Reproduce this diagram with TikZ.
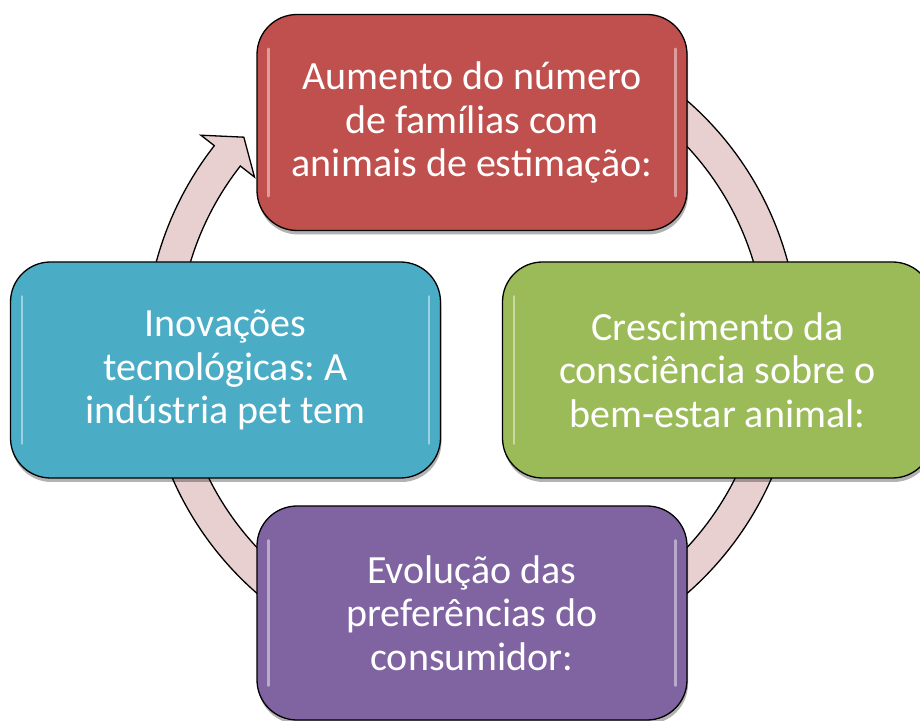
\documentclass[tikz,border=0pt]{standalone}
\usepackage{fontspec}
\setmainfont{Carlito}
\usepackage{tikz}
\usetikzlibrary{
	shadows,
	shapes,
}
\usepackage{xcolor}
\definecolor{boxred}{HTML}{C0504D}
\definecolor{boxblue}{HTML}{4BACC6}
\definecolor{boxgreen}{HTML}{9BBB59}
\definecolor{boxpurple}{HTML}{8064A2}
\definecolor{ringpink}{HTML}{E8D0D1}
\frenchspacing

\begin{document}
\begin{tikzpicture}[x=1pt,y=1pt,
	card/.style={draw=black, line width=1.3pt, rounded corners=40pt,
		minimum width=430pt, minimum height=216pt, inner sep=0pt,
		align=center, text=white, font=\fontsize{40}{43.5}\selectfont,
		drop shadow={shadow xshift=1pt, shadow yshift=-4pt, opacity=0.3, fill=black}},
	ring/.style={fill=ringpink, draw=black, line width=1.3pt},
	gloss/.style={draw=white, opacity=0.45, line width=2.5pt, line cap=round}]
	\useasboundingbox (0,0) rectangle (920,720);

	% circular arrow behind the boxes
	\draw[ring, shift={(472,373)}] (100:327) arc[start angle=100, end angle=-218, radius=327]
		-- (-218:344) -- (-222.6:310) -- (-218:276) -- (-218:294)
		arc[start angle=-218, end angle=100, radius=294] -- cycle;

	\node[card, fill=boxred] (aumento) at (472,597.5)
		{Aumento do número\\de famílias com\\animais de estimação:};
	\node[card, fill=boxgreen] (consciencia) at (717.5,350)
		{Crescimento da\\consciência sobre o\\bem-estar animal:};
	\node[card, fill=boxpurple, minimum height=214pt] (preferencias) at (472,107)
		{Evolução das\\preferências do\\consumidor:};
	\node[card, fill=boxblue] (inovacoes) at (225.5,350)
		{Inovações\\tecnológicas: A\\indústria pet tem};

	% shine along the sides
	\foreach \n in {aumento,consciencia,preferencias,inovacoes}{
		\draw[gloss] ([xshift=12pt,yshift=-35pt]\n.north west) -- ([xshift=12pt,yshift=35pt]\n.south west);
		\draw[gloss] ([xshift=-12pt,yshift=-35pt]\n.north east) -- ([xshift=-12pt,yshift=35pt]\n.south east);
	}
\end{tikzpicture}
\end{document}
